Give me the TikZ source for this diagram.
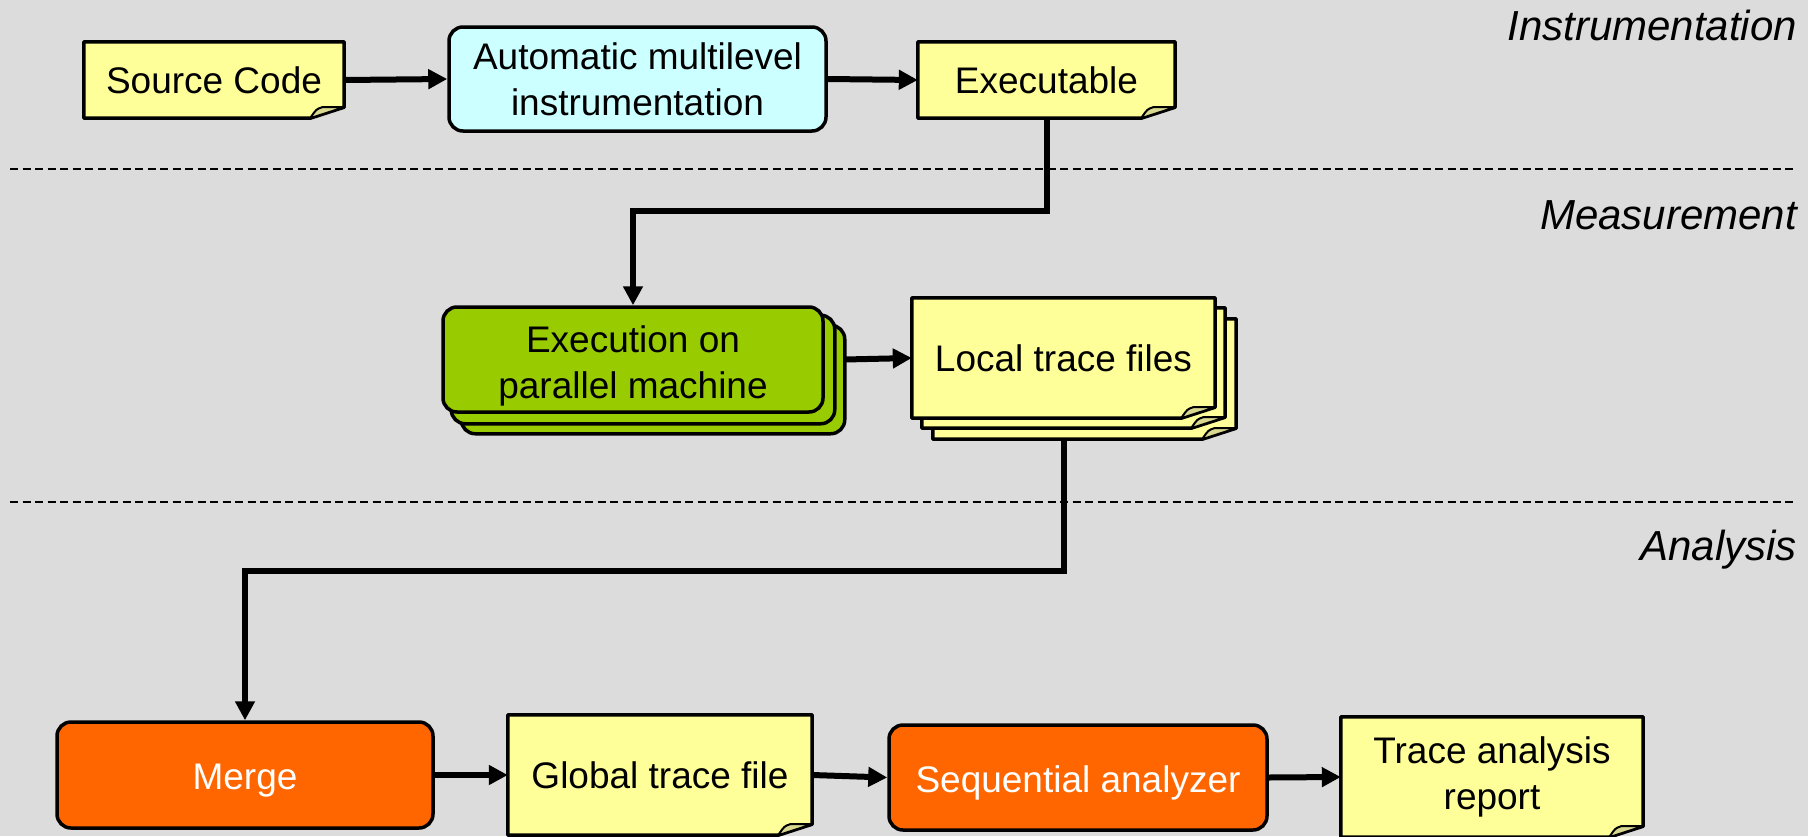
\documentclass[tikz,border=0pt]{standalone}
\usepackage{fontspec}
\setmainfont{Liberation Sans}
\usetikzlibrary{arrows.meta,calc}
\definecolor{bgray}{RGB}{220,220,220}
\definecolor{docyellow}{HTML}{FFFF99}
\definecolor{flapyellow}{HTML}{D8D890}
\definecolor{lcyan}{HTML}{CCFFFF}
\definecolor{lgreen}{HTML}{99CC00}
\definecolor{orng}{HTML}{FF6600}
\pgfdeclarelayer{bglayer}
\pgfsetlayers{bglayer,main}
\tikzset{
  txt/.style={font=\fontsize{37}{46}\selectfont, align=center, inner sep=0pt},
  rbox/.style={txt, draw=black, line width=3.5pt, rounded corners=14pt},
  docnode/.style={txt},
  docfill/.style={fill=docyellow, draw=black, line width=3.5pt, line join=round},
  flapfill/.style={fill=flapyellow, draw=black, line width=2pt, line join=round},
  stackfill/.style={fill=lgreen, draw=black, line width=3.5pt, rounded corners=14pt},
  conn/.style={line width=6pt, -{Triangle[length=19pt,width=19pt]}},
  sep/.style={line width=2pt, dash pattern=on 8pt off 4.5pt},
  phase/.style={font=\fontsize{42}{48}\selectfont\itshape, anchor=base east, inner sep=0pt}
}
\newcommand\lowered[2]{\raisebox{-#1}[\height][\depth]{#2}}
\newcommand\docshape[2]{%
  \begin{pgfonlayer}{bglayer}
    \path[docfill] ($(#1.south west)+(#2,#2)$) -- ($(#1.south east)+(#2-34,#2)$)
      -- ($(#1.south east)+(#2,#2-11)$) -- ($(#1.north east)+(#2,#2)$)
      -- ($(#1.north west)+(#2,#2)$) -- cycle;
    \path[flapfill] ($(#1.south east)+(#2-34,#2)$)
      .. controls ($(#1.south east)+(#2-28,#2-9)$) .. ($(#1.south east)+(#2-22,#2-11)$)
      -- ($(#1.south east)+(#2,#2-11)$) -- cycle;
  \end{pgfonlayer}}
\newcommand\rstack[2]{%
  \begin{pgfonlayer}{bglayer}
    \path[stackfill] ($(#1.north west)+(#2,#2)$) rectangle ($(#1.south east)+(#2,#2)$);
  \end{pgfonlayer}}
\begin{document}
\begin{tikzpicture}[x=1pt,y=-1pt]
\useasboundingbox (0,0) rectangle (1808,836);
\begin{pgfonlayer}{bglayer}
  \fill[bgray] (0,0) rectangle (1808,836);
  \coordinate (s1a) at (10,169);
  \coordinate (s1b) at (1797,169);
  \coordinate (s2a) at (10,502);
  \coordinate (s2b) at (1797,502);
  \draw[sep] (s1a) -- (s1b);
  \draw[sep] (s2a) -- (s2b);
\end{pgfonlayer}

% phase labels
\node[phase] (lab1) at (1797,40) {Instrumentation};
\node[phase] (lab2) at (1797,229) {Measurement};
\node[phase] (lab3) at (1797,560) {Analysis};

% top row
\node[docnode, minimum width=260pt, minimum height=76pt] (src) at (214,80) {Source Code};
\docshape{src}{0}
\node[rbox, fill=lcyan, minimum width=377pt, minimum height=104pt] (auto) at (637.5,79) {Automatic multilevel\\instrumentation};
\node[docnode, minimum width=257pt, minimum height=76pt] (exe) at (1046.5,80) {Executable};
\docshape{exe}{0}

% measurement
\node[rbox, fill=lgreen, minimum width=380pt, minimum height=105pt] (exec) at (633,359.5) {\lowered{7pt}{\begin{tabular}{@{}c@{}}Execution on\\parallel machine\end{tabular}}};
\rstack{exec}{20}
\rstack{exec}{10}
\node[docnode, minimum width=303pt, minimum height=120pt] (local) at (1063.5,358) {Local trace files};
\docshape{local}{21}
\docshape{local}{10}
\docshape{local}{0}

% analysis
\node[rbox, fill=orng, text=white, minimum width=376pt, minimum height=106pt] (merge) at (245,775) {\lowered{6pt}{Merge}};
\node[docnode, minimum width=304pt, minimum height=120pt] (glob) at (660,775) {Global trace file};
\docshape{glob}{0}
\node[rbox, fill=orng, text=white, minimum width=378pt, minimum height=105pt] (seq) at (1078,777.5) {\lowered{5pt}{Sequential analyzer}};
\node[docnode, minimum width=302pt, minimum height=120pt] (rep) at (1492,777) {Trace analysis\\report};
\docshape{rep}{0}

% connectors
\draw[conn] (src.east) -- (auto.west);
\draw[conn] (auto.east) -- (exe.west);
\draw[conn] (exe.south) -- ($(exe.south)+(0,93)$) -| (exec.north);
\draw[conn] ($(exec.east)+(20,0)$) -- (local.west);
\draw[conn] ($(local.south)+(0,22)$) -- ($(local.south)+(0,153)$) -| (merge.north);
\draw[conn] (merge.east) -- (glob.west);
\draw[conn] (glob.east) -- (seq.west);
\draw[conn] (seq.east) -- (rep.west);
\end{tikzpicture}
\end{document}
